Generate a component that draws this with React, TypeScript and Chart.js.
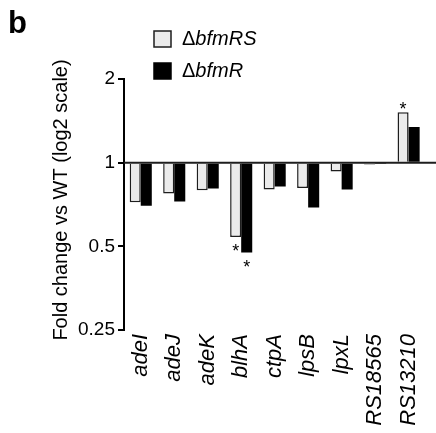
import React, { useEffect, useRef } from 'react';
import { Chart, registerables } from 'chart.js';

Chart.register(...registerables);

const categories = ['adeI', 'adeJ', 'adeK', 'blhA', 'ctpA', 'lpsB', 'lpxL', 'RS18565', 'RS13210'];
const bfmRS = [0.72, 0.775, 0.795, 0.54, 0.8, 0.81, 0.93, 0.985, 1.52];
const bfmR = [0.7, 0.725, 0.808, 0.475, 0.82, 0.69, 0.8, 0.995, 1.345];
const sigRS = [false, false, false, true, false, false, false, false, true];
const sigR = [false, false, false, true, false, false, false, false, false];
const yTicks = [0.25, 0.5, 1, 2];
const legendNames = ['bfmRS', 'bfmR'];
const yTitle = 'Fold change vs WT (log2 scale)';
const panelLabel = 'b';

const FONT = '"Liberation Sans", Arial, Helvetica, sans-serif';
const GRAY = '#ebebeb';
const EDGE = '#1e1e1e';

export default function App() {
  const ref = useRef<HTMLCanvasElement>(null);

  useEffect(() => {
    const canvas = ref.current;
    if (!canvas) return;

    const overlay = {
      id: 'overlay',
      afterDatasetsDraw(chart: any) {
        const ctx = chart.ctx;
        const ys = chart.scales.y;
        const { left } = chart.chartArea;
        ctx.save();
        const by = ys.getPixelForValue(1);
        ctx.strokeStyle = EDGE;
        ctx.lineWidth = 2;
        ctx.beginPath();
        ctx.moveTo(left, by);
        ctx.lineTo(chart.width, by);
        ctx.stroke();

        ctx.fillStyle = '#000';
        ctx.font = `18px ${FONT}`;
        ctx.textAlign = 'center';
        ctx.textBaseline = 'alphabetic';
        [0, 1].forEach((di) => {
          const meta = chart.getDatasetMeta(di);
          const sig = di === 0 ? sigRS : sigR;
          const vals = di === 0 ? bfmRS : bfmR;
          meta.data.forEach((bar: any, i: number) => {
            if (!sig[i]) return;
            const p = bar.getProps(['x', 'y'], true);
            const cy = vals[i] >= 1 ? p.y - 7 : p.y + 10;
            ctx.fillText('*', p.x, cy + 10);
          });
        });
        ctx.restore();
      },
      afterDraw(chart: any) {
        const ctx = chart.ctx;
        ctx.save();
        ctx.fillStyle = '#000';
        ctx.font = `bold 31px ${FONT}`;
        ctx.textAlign = 'left';
        ctx.textBaseline = 'alphabetic';
        ctx.fillText(panelLabel, 8, 33);

        ctx.save();
        ctx.translate(61, 200);
        ctx.rotate(-Math.PI / 2);
        ctx.font = `20px ${FONT}`;
        ctx.textAlign = 'center';
        ctx.textBaseline = 'middle';
        ctx.fillText(yTitle, 0, 0);
        ctx.restore();

        const boxX = 154;
        const boxes = [31, 63];
        boxes.forEach((by, i) => {
          if (i === 0) {
            ctx.fillStyle = GRAY;
            ctx.fillRect(boxX, by, 17, 16);
            ctx.strokeStyle = EDGE;
            ctx.lineWidth = 1.5;
            ctx.strokeRect(boxX, by, 17, 16);
          } else {
            ctx.fillStyle = '#000';
            ctx.fillRect(boxX - 0.75, by - 0.75, 18.5, 17.5);
          }
          ctx.fillStyle = '#000';
          ctx.textBaseline = 'middle';
          ctx.textAlign = 'left';
          ctx.font = `20px ${FONT}`;
          const tx = 182;
          const ty = by + 8;
          ctx.fillText('\u0394', tx, ty);
          const w = ctx.measureText('\u0394').width;
          ctx.font = `italic 20px ${FONT}`;
          ctx.fillText(legendNames[i], tx + w, ty);
        });
        ctx.restore();
      },
    };

    const chart = new Chart(canvas, {
      type: 'bar',
      data: {
        labels: categories,
        datasets: [
          {
            label: '\u0394' + legendNames[0],
            data: bfmRS,
            base: 1,
            backgroundColor: GRAY,
            borderColor: EDGE,
            borderWidth: 1.5,
            categoryPercentage: 0.66,
            barPercentage: 1,
          },
          {
            label: '\u0394' + legendNames[1],
            data: bfmR,
            base: 1,
            backgroundColor: '#000',
            borderColor: '#000',
            borderWidth: 0,
            categoryPercentage: 0.66,
            barPercentage: 1,
          },
        ],
      } as any,
      options: {
        animation: false,
        responsive: false,
        maintainAspectRatio: false,
        devicePixelRatio: 1,
        layout: { padding: { top: 79, left: 0, right: 0, bottom: 0 } },
        plugins: {
          legend: { display: false },
          tooltip: { enabled: false },
          title: { display: false },
        },
        scales: {
          x: {
            type: 'category',
            grid: { display: false, drawTicks: false },
            border: { display: false },
            ticks: {
              color: '#000',
              font: { family: FONT, size: 22, style: 'italic' },
              maxRotation: 90,
              minRotation: 90,
              autoSkip: false,
              padding: 4,
            },
            afterFit: (s: any) => {
              s.height = 103;
            },
          },
          y: {
            type: 'logarithmic',
            min: 0.25,
            max: 2,
            grid: {
              display: true,
              drawOnChartArea: false,
              drawTicks: true,
              tickLength: 6,
              color: '#000',
              lineWidth: 2,
            },
            border: { display: true, color: '#000', width: 2 },
            ticks: {
              color: '#000',
              font: { family: FONT, size: 19 },
              padding: 3,
              autoSkip: false,
              callback: (v: any) => String(v),
            },
            afterBuildTicks: (s: any) => {
              s.ticks = yTicks.map((v) => ({ value: v }));
            },
            afterFit: (s: any) => {
              s.width = 124;
            },
          },
        },
      } as any,
      plugins: [overlay],
    });

    return () => chart.destroy();
  }, []);

  return (
    <div style={{ position: 'absolute', left: 0, top: 0, width: 436, height: 433, overflow: 'hidden', background: '#fff' }}>
      <canvas ref={ref} width={439} height={433} style={{ display: 'block', width: 439, height: 433 }} />
    </div>
  );
}
